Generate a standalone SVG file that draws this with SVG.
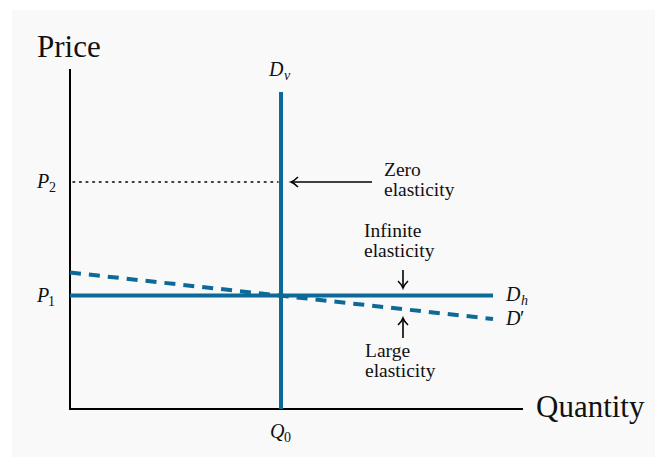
<svg xmlns="http://www.w3.org/2000/svg" width="655" height="457" viewBox="0 0 655 457">
<style>
.axis{stroke:#000;stroke-width:2;fill:none}
.curve{stroke:#0d6a98;stroke-width:4;fill:none}
.dash{stroke-dasharray:11 8}
.dot{stroke:#000;stroke-width:1.6;stroke-dasharray:1.6 5;stroke-linecap:round;fill:none}
.ptr{stroke:#000;stroke-width:1.6;fill:none;marker-end:url(#head)}
.lbl{font-family:"Liberation Serif","Times New Roman",serif;font-size:19.5px;fill:#111}
.big{font-family:"Liberation Serif","Times New Roman",serif;font-size:31px;fill:#111}
.m{font-family:"Liberation Serif","Times New Roman",serif;font-size:20px;font-style:italic;fill:#111}
.sub{font-size:14px}
.up{font-style:normal}
</style>
<defs>
<marker id="head" markerWidth="12" markerHeight="12" refX="0" refY="0" viewBox="-8 -6 10 12" orient="auto" markerUnits="userSpaceOnUse">
<path d="M-7,-5 Q-3,-1 0,0 Q-3,1 -7,5" fill="none" stroke="#000" stroke-width="1.5"/>
</marker>
</defs>
<rect x="12" y="10" width="643" height="447" fill="#f9f9f9"/>
<g id="axes">
<path class="axis" d="M70,69 V409 H523"/>
<text class="big" x="37" y="57">Price</text>
<text class="big" x="536" y="417">Quantity</text>
</g>
<g id="connectors">
<path class="dot" d="M73,182 H278"/>
<path class="curve dash" d="M70,272.5 L493,319"/>
<path class="curve" d="M70,295.5 H493"/>
<path class="curve" d="M281,92 V409"/>
<path class="ptr" d="M372,182 H291"/>
<path class="ptr" d="M403,270 V288"/>
<path class="ptr" d="M403,338 V318"/>
</g>
<g id="Dv"><text class="m" x="269" y="76">D<tspan class="sub" x="284" y="80">v</tspan></text></g>
<g id="P2"><text class="m" x="37" y="188">P<tspan class="sub up" x="49" y="192">2</tspan></text></g>
<g id="P1"><text class="m" x="37" y="302">P<tspan class="sub up" x="48" y="306">1</tspan></text></g>
<g id="Q0"><text class="m" x="270" y="438">Q<tspan class="sub up" x="284" y="442">0</tspan></text></g>
<g id="Dh"><text class="m" x="506" y="301">D<tspan class="sub" x="521" y="305">h</tspan></text></g>
<g id="Dprime"><text class="m" x="506" y="325">D<tspan class="up" x="520" y="325">′</tspan></text></g>
<g id="zero"><text class="lbl" x="384" y="176">Zero<tspan x="384" y="196">elasticity</tspan></text></g>
<g id="infinite"><text class="lbl" x="364" y="237">Infinite<tspan x="364" y="257">elasticity</tspan></text></g>
<g id="large"><text class="lbl" x="365" y="357">Large<tspan x="365" y="377">elasticity</tspan></text></g>
</svg>
